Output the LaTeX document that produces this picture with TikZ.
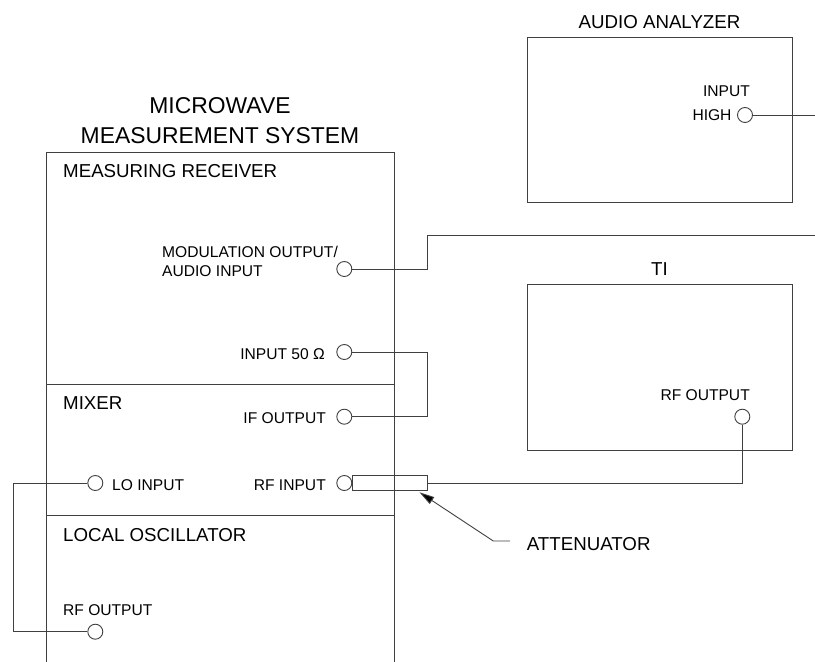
\documentclass[tikz,border=0pt]{standalone}
\usepackage{fontspec}
\setmainfont{Liberation Sans}
\usetikzlibrary{arrows.meta}
\begin{document}
\begin{tikzpicture}[x=1pt,y=-1pt,
  ln/.style={draw=black!75, line width=0.9pt},
  port/.style={circle, draw=black!75, line width=0.9pt, minimum size=15pt, inner sep=0pt, fill=white},
  small/.style={font=\fontsize{15.6}{18}\selectfont, inner sep=0pt},
  sect/.style={font=\fontsize{18.7}{22}\selectfont, inner sep=0pt},
  ttl/.style={font=\fontsize{22.9}{27}\selectfont, inner sep=0pt},
  unit/.style={draw=black!75, line width=0.9pt, inner sep=0pt, anchor=north west}]
\useasboundingbox (0,0) rectangle (815,662);

% Microwave measurement system rack
\draw[ln] (46,662) -- (46,152.7) -- (394,152.7) -- (394,662);
\draw[ln] (46,384) -- (394,384);
\draw[ln] (46,515.7) -- (394,515.7);
\node[ttl, anchor=base] (t1) at (220,113) {MICROWAVE};
\node[ttl, anchor=base] (t2) at (220,143) {MEASUREMENT SYSTEM};
\node[sect, anchor=base west] (mr) at (63,177) {MEASURING RECEIVER};
\node[sect, anchor=base west] (mx) at (63,409.3) {MIXER};
\node[sect, anchor=base west] (lo) at (63,541.7) {LOCAL OSCILLATOR};

% ports in rack
\node[port] (mod) at (344.3,269) {};
\node[small, anchor=base west] (modt1) at (162,257) {MODULATION OUTPUT/};
\node[small, anchor=base west] (modt2) at (162,276) {AUDIO INPUT};
\node[port] (in50) at (344.3,352) {};
\node[small, anchor=base east] (in50t) at (325,359) {INPUT 50 Ω};
\node[port] (ifout) at (344.3,416.7) {};
\node[small, anchor=base east] (ifoutt) at (326,423) {IF OUTPUT};
\node[port] (rfin) at (344.3,483) {};
\node[small, anchor=base east] (rfint) at (326,490) {RF INPUT};
\node[port] (loin) at (95.3,483) {};
\node[small, anchor=base west] (loint) at (112,490) {LO INPUT};
\node[port] (lorf) at (95.3,631.7) {};
\node[small, anchor=base west] (lorft) at (63,615) {RF OUTPUT};

% attenuator
\node[unit, anchor=west, minimum width=74.6pt, minimum height=15.7pt] (att) at (352.3,483) {};
\node[sect, anchor=base west] (attl) at (526.7,550) {ATTENUATOR};

% audio analyzer
\node[unit, minimum width=265.6pt, minimum height=164.4pt] (aa) at (526.7,37.3) {};
\node[sect, anchor=base] (aal) at (659.5,28.3) {AUDIO ANALYZER};
\node[port] (aain) at (745,115) {};
\node[small, anchor=base east] (aait1) at (750,96.7) {INPUT};
\node[small, anchor=base east] (aait2) at (731.7,120) {HIGH};

% TI
\node[unit, minimum width=265pt, minimum height=165.7pt] (ti) at (527,284.3) {};
\node[sect, anchor=base] (til) at (659.5,275) {TI};
\node[port] (tirf) at (742.3,416.7) {};
\node[small, anchor=base east] (tirft) at (750,400) {RF OUTPUT};

% connectors
\coordinate (j1) at (427.7,235);
\coordinate (e1) at (815,235);
\coordinate (e2) at (815,115);
\coordinate (bus) at (427.7,400);
\coordinate (lx) at (13.3,560);
\coordinate (ae) at (510,541);
\coordinate (ak) at (493.3,541);
\coordinate (atip) at (419.5,492.3);

\draw[ln] (mod.east) -| (j1) -- (e1);
\draw[ln] (in50.east) -| (bus) |- (ifout.east);
\draw[ln] (loin.west) -| (lx) |- (lorf.west);
\draw[ln] (att.east) -| (tirf.south);
\draw[ln] (aain.east) -- (e2);
\draw[ln, -{Triangle[length=15pt,width=8pt,fill=black]}] (ae) -- (ak) -- (atip);
\end{tikzpicture}
\end{document}
